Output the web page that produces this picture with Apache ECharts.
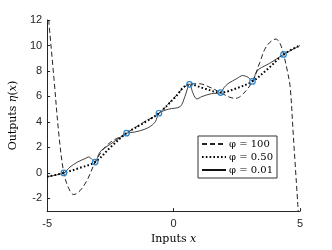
<!DOCTYPE html>
<html><head><meta charset="utf-8">
<script src="https://cdn.jsdelivr.net/npm/echarts@6/dist/echarts.min.js"></script>
<style>html,body{margin:0;padding:0;background:#fff}#c{width:332px;height:250px}</style>
</head><body><div id="c"></div>
<script>
// Observed training points (blue circles)
const obsX = [-4.34, -3.1, -1.86, -0.58, 0.63, 1.86, 3.12, 4.35];
const obsY = [0, 0.85, 3.12, 4.68, 6.95, 6.3, 7.18, 9.3];

// phi = 100 (dashed)
const dashX = [-4.94, -4.73, -4.53, -4.34, -4.15, -3.95, -3.7, -3.4, -3.1, -2.8, -2.5, -2.1, -1.86, -1.2, -0.58, 0, 0.63, 1.0, 1.4, 1.86, 2.2, 2.45, 2.75, 3.12, 3.41, 3.68, 4.05, 4.2, 4.35, 4.5, 4.61, 4.74, 4.93];
const dashY = [12, 7.4, 2.9, 0, -1.2, -1.7, -1.4, -0.5, 0.85, 1.8, 2.4, 2.85, 3.12, 3.95, 4.68, 5.85, 6.95, 7.0, 6.75, 6.3, 5.95, 5.85, 6.2, 7.18, 8.67, 9.95, 10.5, 10.2, 9.3, 8.0, 6.77, 2.8, -3];

// phi = 0.50 (dotted)
const dotX = [-5, -4.34, -3.7, -3.1, -2.5, -1.86, -1.2, -0.58, 0, 0.63, 1.25, 1.86, 2.5, 3.12, 3.75, 4.35, 5];
const dotY = [-0.3, 0, 0.4, 0.85, 2.0, 3.12, 3.9, 4.68, 5.8, 6.95, 6.6, 6.3, 6.65, 7.18, 8.2, 9.3, 10.0];

// phi = 0.01 (solid)
const solX = [-5, -4.34, -4.1, -3.8, -3.5, -3.35, -3.2, -3.1, -2.95, -2.85, -2.5, -2.1, -1.86, -1.55, -1.16, -0.9, -0.71, -0.58, -0.2, 0.26, 0.45, 0.63, 0.78, 0.92, 1.11, 1.5, 1.86, 2.0, 2.15, 2.5, 2.73, 2.95, 3.12, 3.25, 3.38, 3.8, 4.35, 5];
const solY = [-0.3, 0, 0.45, 0.85, 1.12, 1.25, 1.0, 0.85, 1.5, 1.78, 2.25, 2.8, 3.12, 3.2, 3.41, 3.67, 4.05, 4.68, 5.0, 5.2, 6.0, 6.95, 6.2, 5.8, 5.98, 6.22, 6.3, 6.7, 7.0, 7.4, 7.64, 7.5, 7.18, 7.8, 8.15, 8.6, 9.3, 10.0];

const yTicks = [-2, 0, 2, 4, 6, 8, 10, 12];
const xTicks = [-5, 0, 5];
const legendNames = ['\u03c6 = 100', '\u03c6 = 0.50', '\u03c6 = 0.01'];

const zip = (a, b) => a.map((v, i) => [v, b[i]]);
const serif = '"DejaVu Serif", "Liberation Serif", serif';
const axisColor = '#262626';

const chart = echarts.init(document.getElementById('c'), null, {renderer: 'canvas'});
chart.setOption({
  animation: false,
  color: ['#222', '#000', '#111', '#2a86cf'],
  grid: {left: 43, right: 32, top: 20, bottom: 35},
  legend: {
    data: legendNames,
    orient: 'vertical',
    left: 198, top: 136,
    itemWidth: 24, itemHeight: 10, itemGap: 3,
    padding: [3, 4, 3, 3],
    borderColor: '#333', borderWidth: 1,
    backgroundColor: '#fff',
    itemStyle: {opacity: 0},
    textStyle: {fontFamily: serif, fontSize: 10, color: '#000', padding: [0, 0, 0, -2]}
  },
  xAxis: {
    type: 'value', min: -5, max: 5, interval: 5,
    name: 'Inputs {i|x}', nameLocation: 'middle', nameGap: 19,
    nameTextStyle: {fontFamily: serif, fontSize: 11, color: '#000', rich: {i: {fontFamily: serif, fontStyle: 'italic', fontSize: 11}}},
    axisLine: {onZero: false, lineStyle: {color: axisColor, width: 1}},
    axisTick: {inside: true, length: 3, lineStyle: {color: axisColor}},
    axisLabel: {fontFamily: 'Liberation Sans, Arial, sans-serif', fontSize: 11, color: axisColor, margin: 7},
    splitLine: {show: false}
  },
  yAxis: {
    type: 'value', min: -3, max: 12,
    name: 'Outputs {i|\u03b7}({i|x})', nameLocation: 'middle', nameGap: 26,
    nameTextStyle: {fontFamily: serif, fontSize: 11, color: '#000', rich: {i: {fontFamily: serif, fontStyle: 'italic', fontSize: 11}}},
    axisLine: {show: true, onZero: false, lineStyle: {color: axisColor, width: 1}},
    axisTick: {show: true, inside: true, length: 3, lineStyle: {color: axisColor}, customValues: yTicks},
    axisLabel: {fontFamily: 'Liberation Sans, Arial, sans-serif', fontSize: 11, color: axisColor, margin: 5, customValues: yTicks},
    splitLine: {show: false}
  },
  series: [
    {name: legendNames[0], type: 'line', data: zip(dashX, dashY), smooth: 0.35, showSymbol: false, symbol: 'none',
     itemStyle: {color: '#222'}, lineStyle: {color: '#222', width: 1, type: [5, 3]}, z: 3},
    {name: legendNames[1], type: 'line', data: zip(dotX, dotY), smooth: 0.35, showSymbol: false, symbol: 'none',
     itemStyle: {color: '#000'}, lineStyle: {color: '#000', width: 2, type: [1.6, 2.2]}, z: 4},
    {name: legendNames[2], type: 'line', data: zip(solX, solY), smooth: 0.3, showSymbol: false, symbol: 'none',
     itemStyle: {color: '#111'}, lineStyle: {color: '#111', width: 0.8, type: 'solid'}, z: 2},
    {name: 'obs', type: 'scatter', data: zip(obsX, obsY), symbol: 'circle', symbolSize: 5.5,
     itemStyle: {color: 'rgba(0,0,0,0)', borderColor: '#2a86cf', borderWidth: 1.2, opacity: 1}, z: 5}
  ]
});
</script></body></html>
